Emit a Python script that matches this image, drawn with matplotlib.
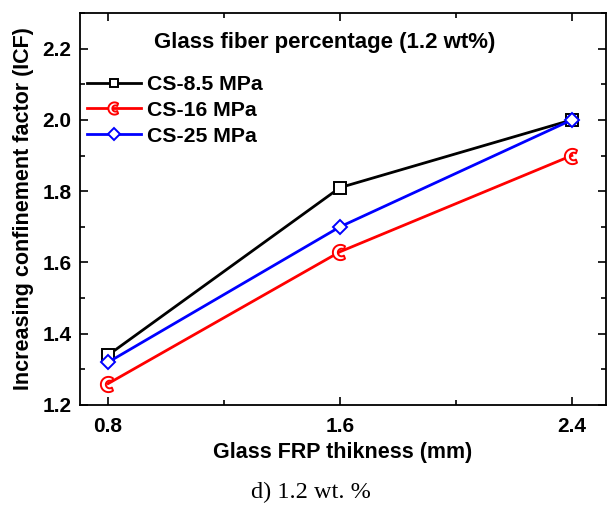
import numpy as np
import matplotlib
matplotlib.use("Agg")
import matplotlib.pyplot as plt
from matplotlib.path import Path
from matplotlib.ticker import MultipleLocator

plt.rcParams['font.family'] = ['Liberation Sans', 'DejaVu Sans']
plt.rcParams['font.weight'] = 'bold'

# data
thickness = [0.8, 1.6, 2.4]
cs_8_5 = [1.34, 1.81, 2.00]
cs_16 = [1.26, 1.63, 1.90]
cs_25 = [1.32, 1.70, 2.00]
labels = ["CS-8.5 MPa", "CS-16 MPa", "CS-25 MPa"]
xticks = [0.8, 1.6, 2.4]
yticks = [1.2, 1.4, 1.6, 1.8, 2.0, 2.2]

# crescent / arrow-like marker similar to Origin's
t = np.linspace(0.3 * np.pi, 1.7 * np.pi, 24)
outer = np.column_stack([np.cos(t), np.sin(t)])
t2 = t[::-1]
inner = np.column_stack([0.5 * np.cos(t2) + 0.15, 0.5 * np.sin(t2)])
verts = np.vstack([outer, inner, outer[:1]])
codes = [Path.MOVETO] + [Path.LINETO] * (len(verts) - 2) + [Path.CLOSEPOLY]
crescent = Path(verts, codes)

fig = plt.figure(figsize=(6.07, 5.07), dpi=100)
ax = fig.add_axes([0.1318, 0.2012, 0.8662, 0.7732])

ax.plot(thickness, cs_8_5, color='black', lw=2, marker='s', ms=8,
        mfc='white', mec='black', mew=1.4, label=labels[0])
ax.plot(thickness, cs_16, color='red', lw=2, marker=crescent, ms=11,
        mfc='white', mec='red', mew=1.4, label=labels[1])
ax.plot(thickness, cs_25, color='blue', lw=2, marker='D', ms=7.5,
        mfc='white', mec='blue', mew=1.4, label=labels[2])

ax.set_xlim(0.703, 2.517)
ax.set_ylim(1.2, 2.3)
ax.set_xticks(xticks)
ax.set_yticks(yticks)
ax.xaxis.set_minor_locator(MultipleLocator(0.4))
ax.yaxis.set_minor_locator(MultipleLocator(0.1))
ax.tick_params(which='both', direction='in', top=True, right=True, width=1.2)
ax.tick_params(which='major', length=6, labelsize=15, pad=6)
ax.tick_params(axis='x', which='major', pad=9)
ax.tick_params(which='minor', length=3.5)
for s in ax.spines.values():
    s.set_linewidth(1.3)

ax.set_xlabel("Glass FRP thikness (mm)", fontsize=15.5, fontweight='bold', labelpad=4)
ax.set_ylabel("Increasing confinement factor (ICF)", fontsize=15.5, fontweight='bold', labelpad=6)

ax.text(0.14, 0.925, "Glass fiber percentage (1.2 wt%)", transform=ax.transAxes,
        fontsize=16, fontweight='bold', va='center')
ax.legend(loc='upper left', bbox_to_anchor=(-0.01, 0.874), frameon=False,
          fontsize=15.3, handlelength=2.5, borderaxespad=0.2, labelspacing=0.32,
          handletextpad=0.3, markerscale=0.8)

fig.text(0.512, 0.028, "d) 1.2 wt. %", fontsize=17.5, family='Liberation Serif',
         fontweight='normal', ha='center', va='center')

fig.savefig("out.png", dpi=100)
